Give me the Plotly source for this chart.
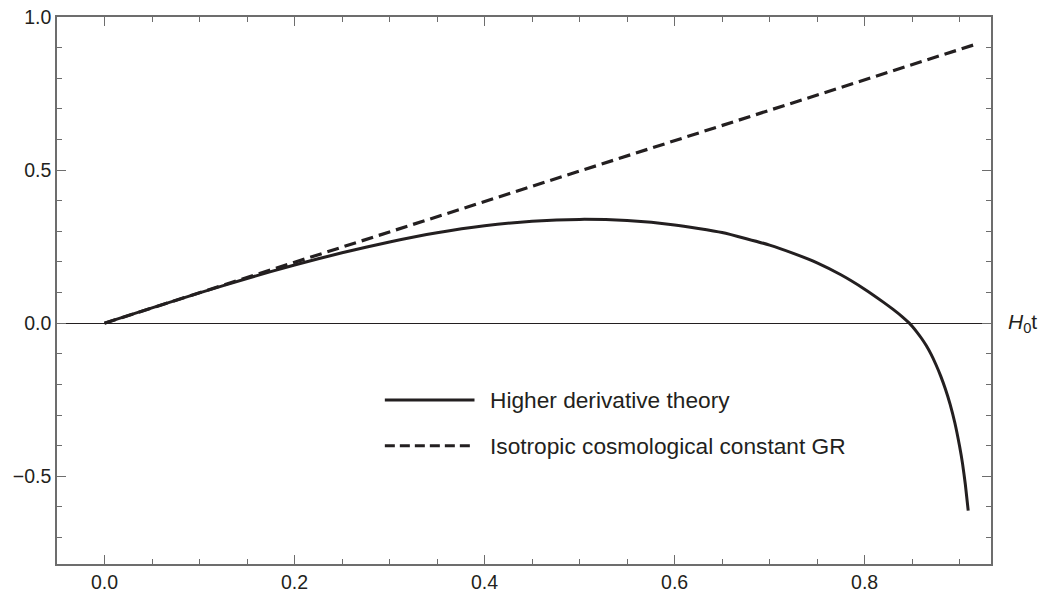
import plotly.graph_objects as go

# Solid curve: higher derivative theory, sampled along H0 t
hd_t = [0.0, 0.05, 0.10, 0.15, 0.20, 0.25, 0.30, 0.35, 0.40, 0.45, 0.50,
        0.55, 0.60, 0.65, 0.70, 0.725, 0.75, 0.775, 0.80, 0.82, 0.83, 0.84,
        0.847, 0.85, 0.855, 0.86, 0.865, 0.87, 0.875, 0.88, 0.885, 0.89,
        0.895, 0.90, 0.903, 0.906, 0.909]
hd_val = [0.0, 0.050, 0.099, 0.146, 0.190, 0.230, 0.265, 0.295, 0.318, 0.333, 0.339,
          0.335, 0.321, 0.296, 0.255, 0.228, 0.197, 0.158, 0.111, 0.068, 0.045, 0.020,
          0.0, -0.010, -0.029, -0.050, -0.074, -0.102, -0.135, -0.172, -0.215, -0.265,
          -0.326, -0.403, -0.458, -0.527, -0.612]

# Dashed line: isotropic cosmological constant GR
gr_t = [0.0, 0.915]
gr_val = [0.0, 0.909]

x_ticks = [0.0, 0.2, 0.4, 0.6, 0.8]
x_labels = ["0.0", "0.2", "0.4", "0.6", "0.8"]
y_ticks = [-0.5, 0.0, 0.5, 1.0]
y_labels = ["\u22120.5", "0.0", "0.5", "1.0"]

legend_names = ["Higher derivative theory", "Isotropic cosmological constant GR"]

INK = "#231f20"
FRAME = "#6d6d6d"
FONT = "Liberation Sans, Arial, sans-serif"

fig = go.Figure()
fig.add_trace(go.Scatter(x=gr_t, y=gr_val, mode="lines",
                         line=dict(color=INK, width=3.2, dash="12px,6px"),
                         name=legend_names[1], showlegend=False))
fig.add_trace(go.Scatter(x=hd_t, y=hd_val, mode="lines",
                         line=dict(color=INK, width=3, shape="spline", smoothing=0.5),
                         name=legend_names[0], showlegend=False))

axis_common = dict(showline=True, linecolor=FRAME, linewidth=1.5, mirror="ticks",
                   ticks="inside", ticklen=9, tickwidth=1.2, tickcolor=FRAME,
                   showgrid=False, automargin=False,
                   tickfont=dict(family=FONT, size=19.5, color=INK))

fig.update_xaxes(range=[-0.05, 0.933], tickmode="array", tickvals=x_ticks,
                 ticktext=x_labels, zeroline=False,
                 minor=dict(ticks="inside", ticklen=5, tickwidth=1.2, tickcolor=FRAME,
                            dtick=0.05, tick0=0, showgrid=False),
                 **axis_common)
fig.update_yaxes(range=[-0.7866, 1.0], tickmode="array", tickvals=y_ticks,
                 ticktext=y_labels, zeroline=True, zerolinecolor=INK, zerolinewidth=1.3,
                 minor=dict(ticks="inside", ticklen=5, tickwidth=1.2, tickcolor=FRAME,
                            dtick=0.1, tick0=0, showgrid=False),
                 **axis_common)

# Legend drawn inside the frame: sample lines and labels
legend_y = [0.300, 0.216]
legend_dash = ["solid", "10px,5px"]
for yy, dash, name in zip(legend_y, legend_dash, legend_names):
    fig.add_shape(type="line", xref="paper", yref="paper", x0=0.351, x1=0.447,
                  y0=yy, y1=yy, line=dict(color=INK, width=3, dash=dash))
    fig.add_annotation(xref="paper", yref="paper", x=0.461, y=yy, text=name,
                       showarrow=False, xanchor="left", yanchor="middle",
                       font=dict(family=FONT, size=22.7, color=INK))

# Axis label at the right end of the zero line
fig.add_annotation(xref="paper", yref="y", x=1.0, y=0.0, xanchor="left",
                   yanchor="middle", xshift=15, showarrow=False,
                   text="<i>H</i><sub>0</sub>t",
                   font=dict(family=FONT, size=21, color=INK))

fig.update_layout(width=1043, height=597, plot_bgcolor="white", paper_bgcolor="white",
                  margin=dict(l=57, r=52, t=17, b=33, autoexpand=False),
                  showlegend=False)

fig.write_html("out.html")
